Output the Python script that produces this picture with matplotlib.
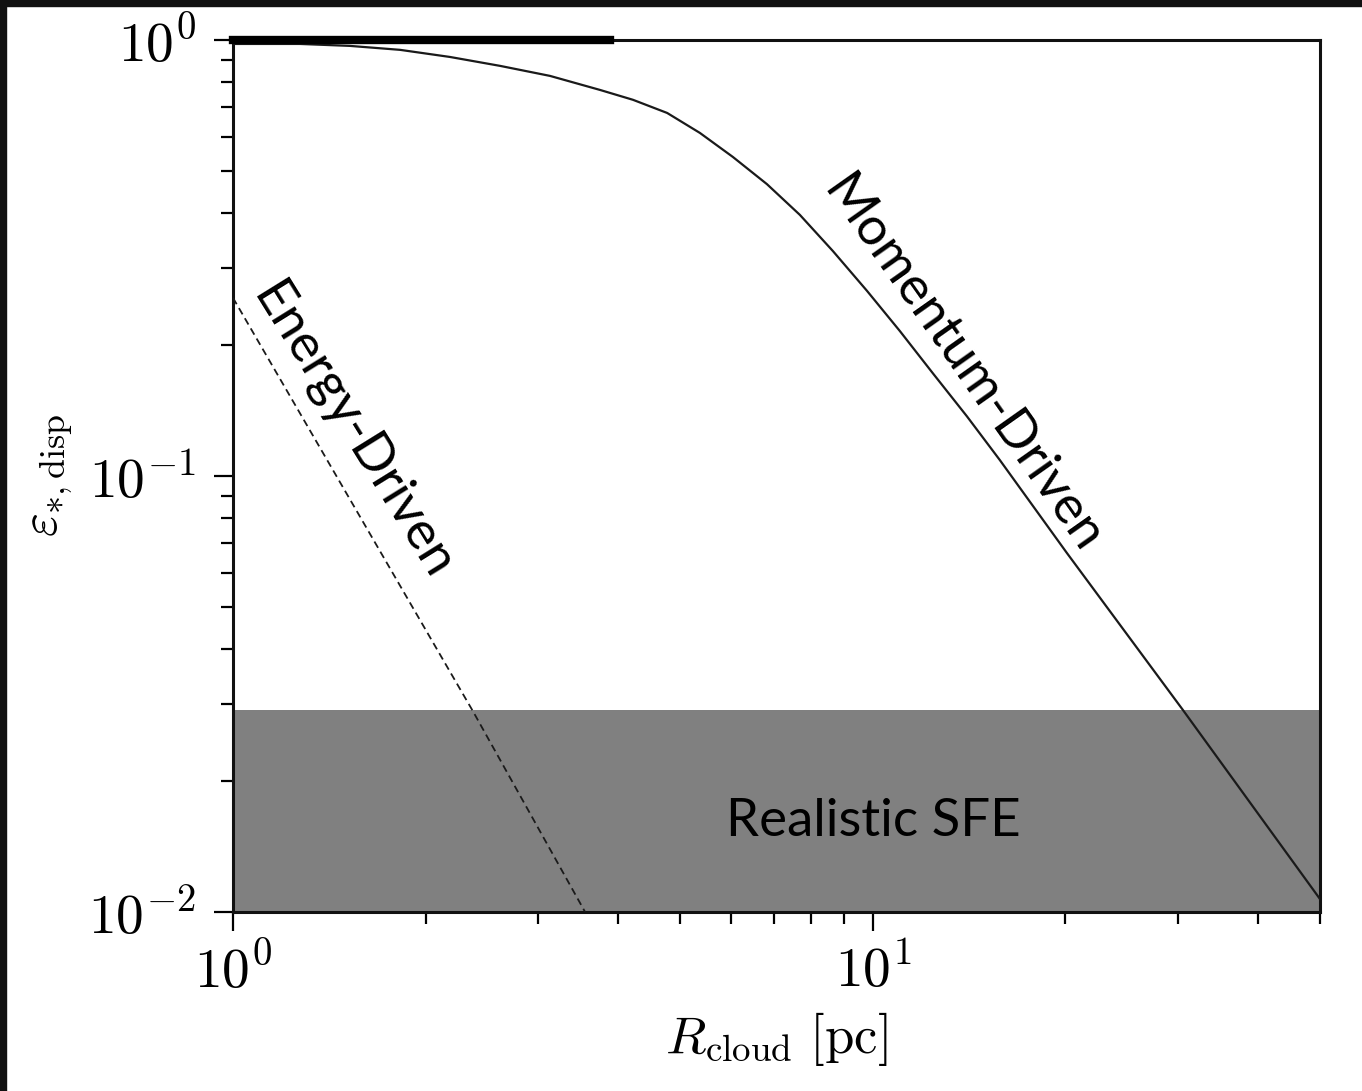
import numpy as np
import matplotlib
matplotlib.use("Agg")
import matplotlib.pyplot as plt
from matplotlib.patches import Rectangle

plt.rcParams['mathtext.fontset'] = 'cm'
plt.rcParams['font.family'] = 'serif'
plt.rcParams['font.serif'] = ['cmr10', 'DejaVu Serif']
plt.rcParams['axes.formatter.use_mathtext'] = True

# momentum-driven curve
r_mom = [1.0, 1.272, 1.523, 1.824, 2.183, 2.614, 3.129, 3.745, 4.217, 4.77,
         5.366, 6.043, 6.83, 7.69, 8.66, 9.787, 11.02, 12.41, 14.03, 15.79,
         20.1, 30.5, 50.0]
eps_mom = [0.979, 0.979, 0.969, 0.949, 0.914, 0.872, 0.827, 0.768, 0.729,
           0.680, 0.612, 0.539, 0.467, 0.397, 0.328, 0.266, 0.215, 0.172,
           0.137, 0.1088, 0.0666, 0.0291, 0.0107]

# energy-driven curve
r_en = [1.0, 2.37, 3.55]
eps_en = [0.256, 0.0289, 0.0100]

# realistic star formation efficiency band
sfe_lo, sfe_hi = 0.01, 0.029

fig = plt.figure(figsize=(13.62, 10.91), dpi=100)
ax = fig.add_axes([0.1711, 0.1641, 0.7981, 0.7993])

ax.axhspan(sfe_lo, sfe_hi, color='#808080', lw=0, zorder=1)
ax.plot(r_mom, eps_mom, color='#1a1a1a', lw=1.6, zorder=3)
ax.plot(r_en, eps_en, color='#1a1a1a', lw=1.3, ls=(0, (4, 2.5)), zorder=3)

ax.set_xscale('log')
ax.set_yscale('log')
ax.set_xlim(1, 50)
ax.set_ylim(1e-2, 1)

for s in ax.spines.values():
    s.set_linewidth(2.2)
    s.set_color('#111111')
ax.tick_params(which='major', direction='out', length=14, width=1.6,
               labelsize=40, pad=9, top=False, right=False)
ax.tick_params(axis='y', which='major', pad=13)
ax.tick_params(which='minor', direction='out', length=8.5, width=1.6,
               top=False, right=False)

# thick artefact on top spine at left
ax.axhline(1, xmin=0, xmax=0.347, color='black', lw=6, clip_on=False, zorder=5)

ax.set_xlabel(r'$R_{\rm cloud}\ [\rm pc]$', fontsize=38, labelpad=7)
ax.set_ylabel(r'$\varepsilon_{*,\rm disp}$', fontsize=37, labelpad=9)

lab = dict(family='Lato', fontsize=38, color='black', ha='center',
           va='center', rotation_mode='anchor', zorder=6)
ax.text(13.77, 0.18, 'Momentum-Driven', rotation=-54.8, **lab)
ax.text(1.535, 0.127, 'Energy-Driven', rotation=-58.2, **lab)
ax.text(10, 0.0161, 'Realistic SFE', **dict(lab, rotation=0))

# black frame at the top and left of the image
fig.patches.append(Rectangle((0, 1 - 6 / 1091), 1, 6 / 1091,
                             transform=fig.transFigure, color='#111111'))
fig.patches.append(Rectangle((0, 0), 6 / 1362, 1,
                             transform=fig.transFigure, color='#111111'))

fig.savefig('out.png', dpi=100)
